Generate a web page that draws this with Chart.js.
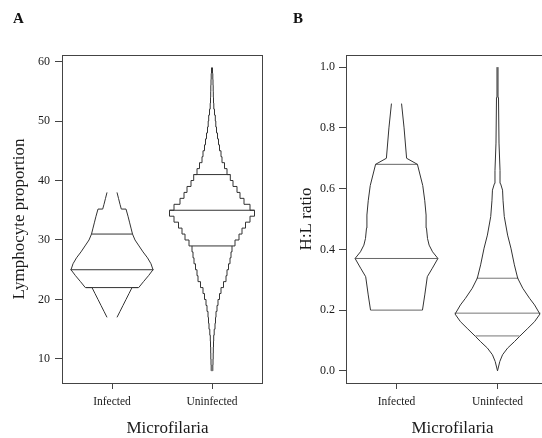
<!DOCTYPE html>
<html>
<head>
<meta charset="utf-8">
<script src="https://cdn.jsdelivr.net/npm/chart.js@4.4.1/dist/chart.umd.min.js"></script>
<style>
  html, body { margin: 0; padding: 0; background: #fff; overflow: hidden; }
  #wrap { position: relative; width: 542px; height: 438px; overflow: hidden; }
  #chartA { position: absolute; left: 0; top: 0; }
  #chartB { position: absolute; left: 271px; top: 0; }
</style>
</head>
<body>
<div id="wrap">
  <canvas id="chartA" width="271" height="438"></canvas>
  <canvas id="chartB" width="290" height="438"></canvas>
</div>
<script>
(() => {
  "use strict";

  // ---------- data ----------
  const categories = ["Infected", "Uninfected"];

  // panel A: lymphocyte proportion (half-widths in category units)
  const lymTicks = [10, 20, 30, 40, 50, 60];
  const lymTickLabels = ["10", "20", "30", "40", "50", "60"];

  const lymInfY = [17, 18, 19, 20, 21, 22, 22, 23, 24, 25, 26, 27, 28, 29, 30, 31, 32, 33, 34, 35.2, 35.2, 36, 37, 38];
  const lymInfW = [0.05, 0.08, 0.11, 0.14, 0.17, 0.2, 0.267, 0.315, 0.365, 0.41, 0.39, 0.355, 0.31, 0.27, 0.23, 0.205, 0.19, 0.175, 0.16, 0.14, 0.093, 0.08, 0.065, 0.05];
  const lymInfQ = [22, 25, 31];
  const lymInfQW = [0.26, 0.415, 0.205];

  const lymUninfY = [8, 9, 10, 11, 12, 13, 14, 15, 16, 17, 18, 19, 20, 21, 22, 23, 24, 25, 26, 27, 28, 29, 30, 31, 32, 33,
    34, 35, 36, 37, 38, 39, 40, 41, 42, 43, 44, 45, 46, 47, 48, 49, 50, 51, 52, 53, 54, 55, 56, 57, 58, 59];
  const lymUninfW = [0.005, 0.008, 0.01, 0.012, 0.013, 0.015, 0.017, 0.022, 0.03, 0.035, 0.04, 0.05, 0.06, 0.075, 0.09, 0.115,
    0.14, 0.15, 0.165, 0.18, 0.19, 0.2, 0.23, 0.27, 0.3, 0.335, 0.38, 0.425, 0.38, 0.32, 0.28, 0.25, 0.21, 0.183, 0.15, 0.125,
    0.1, 0.09, 0.075, 0.065, 0.055, 0.045, 0.038, 0.033, 0.025, 0.018, 0.015, 0.013, 0.012, 0.01, 0.008, 0.005];
  const lymUninfQ = [29, 35, 41];
  const lymUninfQW = [0.2, 0.425, 0.183];

  // panel B: H:L ratio
  const hlTicks = [0, 0.2, 0.4, 0.6, 0.8, 1.0];
  const hlTickLabels = ["0.0", "0.2", "0.4", "0.6", "0.8", "1.0"];

  const hlInfY = [0.2, 0.25, 0.31, 0.338, 0.37, 0.392, 0.414, 0.436, 0.47, 0.513, 0.56, 0.61, 0.68, 0.7, 0.8, 0.88];
  const hlInfW = [0.257, 0.28, 0.305, 0.355, 0.41, 0.357, 0.323, 0.307, 0.297, 0.293, 0.28, 0.26, 0.207, 0.1, 0.075, 0.05];
  const hlInfQ = [0.2, 0.37, 0.68];
  const hlInfQW = [0.257, 0.41, 0.21];

  const hlUninfY = [0, 0.031, 0.053, 0.075, 0.096, 0.113, 0.14, 0.162, 0.187, 0.217, 0.239, 0.272, 0.305, 0.349, 0.404,
    0.447, 0.508, 0.56, 0.595, 0.617, 0.66, 0.75, 0.9, 1.0];
  const hlUninfW = [0, 0.023, 0.05, 0.1, 0.167, 0.217, 0.3, 0.367, 0.42, 0.367, 0.317, 0.25, 0.2, 0.167, 0.133,
    0.1, 0.067, 0.055, 0.05, 0.03, 0.025, 0.015, 0.01, 0.005];
  const hlUninfQ = [0.115, 0.19, 0.305];
  const hlUninfQW = [0.217, 0.425, 0.207];

  // ---------- style ----------
  const FONT = '"Liberation Serif", "DejaVu Serif", serif';
  const TEXT = "#1a1a1a";
  const AXIS = "#444";

  // left + right outline, plus the quantile lines of one bean
  function bean(pos, ys, ws, qs, qws, lineColor, qColor, stepped) {
    const side = (sign) => ({
      data: ys.map((y, i) => ({ x: pos + sign * ws[i], y })),
      borderColor: lineColor,
      stepped,
    });
    const out = [side(-1), side(1)];
    qs.forEach((q, i) => {
      out.push({
        data: [{ x: pos - qws[i], y: q }, { x: pos + qws[i], y: q }],
        borderColor: qColor,
      });
    });
    return out;
  }

  // box round the plot, panel letter and the x title (R puts it a bit right of centre)
  const frame = {
    id: "frame",
    afterDraw(chart, args, opts) {
      const { ctx, chartArea: a } = chart;
      ctx.save();
      ctx.strokeStyle = AXIS;
      ctx.lineWidth = 1;
      ctx.strokeRect(Math.round(a.left) + 0.5, Math.round(a.top) + 0.5,
        Math.round(a.right - a.left), Math.round(a.bottom - a.top));
      ctx.fillStyle = "#111";
      ctx.font = `bold 15px ${FONT}`;
      ctx.textBaseline = "alphabetic";
      ctx.fillText(opts.letter, opts.lx, 23);

      ctx.fillStyle = TEXT;
      ctx.font = `17px ${FONT}`;
      ctx.textAlign = "center";
      ctx.fillText(opts.xTitle, (a.left + a.right) / 2 + 5.5, 433);
      ctx.restore();
    },
  };

  function makeChart(id, cfg) {
    return new Chart(document.getElementById(id), {
      type: "scatter",
      data: { datasets: cfg.datasets },
      plugins: [frame],
      options: {
        responsive: false,
        animation: false,
        devicePixelRatio: 1,
        layout: { padding: { top: 55, right: cfg.padRight, left: 0, bottom: 0 } },
        elements: {
          point: { radius: 0, hoverRadius: 0 },
          line: { borderWidth: 1, tension: 0, fill: false },
        },
        datasets: { scatter: { showLine: true } },
        plugins: {
          legend: { display: false },
          tooltip: { enabled: false },
          frame: { letter: cfg.letter, lx: cfg.letterX, xTitle: "Microfilaria" },
        },
        scales: {
          x: {
            type: "linear",
            min: 0.5,
            max: 2.5,
            afterBuildTicks: (s) => { s.ticks = categories.map((c, i) => ({ value: i + 1 })); },
            afterFit: (s) => { s.height = 55; },
            border: { display: false },
            grid: { drawOnChartArea: false, drawTicks: true, tickLength: 6, color: AXIS },
            ticks: {
              callback: (v, i) => categories[i],
              font: { family: FONT, size: 11.5 },
              color: TEXT,
              padding: 6,
              maxRotation: 0,
              autoSkip: false,
            },
          },
          y: {
            type: "linear",
            min: cfg.yMin,
            max: cfg.yMax,
            afterBuildTicks: (s) => { s.ticks = cfg.ticks.map((v) => ({ value: v })); },
            afterFit: (s) => { s.width = cfg.yWidth; },
            border: { display: false },
            grid: { drawOnChartArea: false, drawTicks: true, tickLength: 7, color: AXIS },
            ticks: {
              callback: (v, i) => cfg.tickLabels[i],
              font: { family: FONT, size: 12 },
              color: TEXT,
              padding: cfg.tickPad,
            },
            title: {
              display: true,
              text: cfg.yTitle,
              color: TEXT,
              font: { family: FONT, size: 17, lineHeight: 1 },
              padding: { top: cfg.titlePad, bottom: 0 },
            },
          },
        },
      },
    });
  }

  makeChart("chartA", {
    letter: "A",
    letterX: 13,
    padRight: 9,
    yWidth: 62,
    yMin: 5.96,
    yMax: 61.1,
    ticks: lymTicks,
    tickLabels: lymTickLabels,
    tickPad: 5,
    titlePad: 11,
    yTitle: "Lymphocyte proportion",
    datasets: [
      ...bean(1, lymInfY, lymInfW, lymInfQ, lymInfQW, "#333", "#333", false),
      ...bean(2, lymUninfY, lymUninfW, lymUninfQ, lymUninfQW, "#333", "#333", "before"),
    ],
  });

  makeChart("chartB", {
    letter: "B",
    letterX: 22,
    padRight: 13,
    yWidth: 75,
    yMin: -0.04,
    yMax: 1.04,
    ticks: hlTicks,
    tickLabels: hlTickLabels,
    tickPad: 4,
    titlePad: 27,
    yTitle: "H:L ratio",
    datasets: [
      ...bean(1, hlInfY, hlInfW, hlInfQ, hlInfQW, "#333", "#666", false),
      ...bean(2, hlUninfY, hlUninfW, hlUninfQ, hlUninfQW, "#333", "#777", false),
    ],
  });
})();
</script>
</body>
</html>
